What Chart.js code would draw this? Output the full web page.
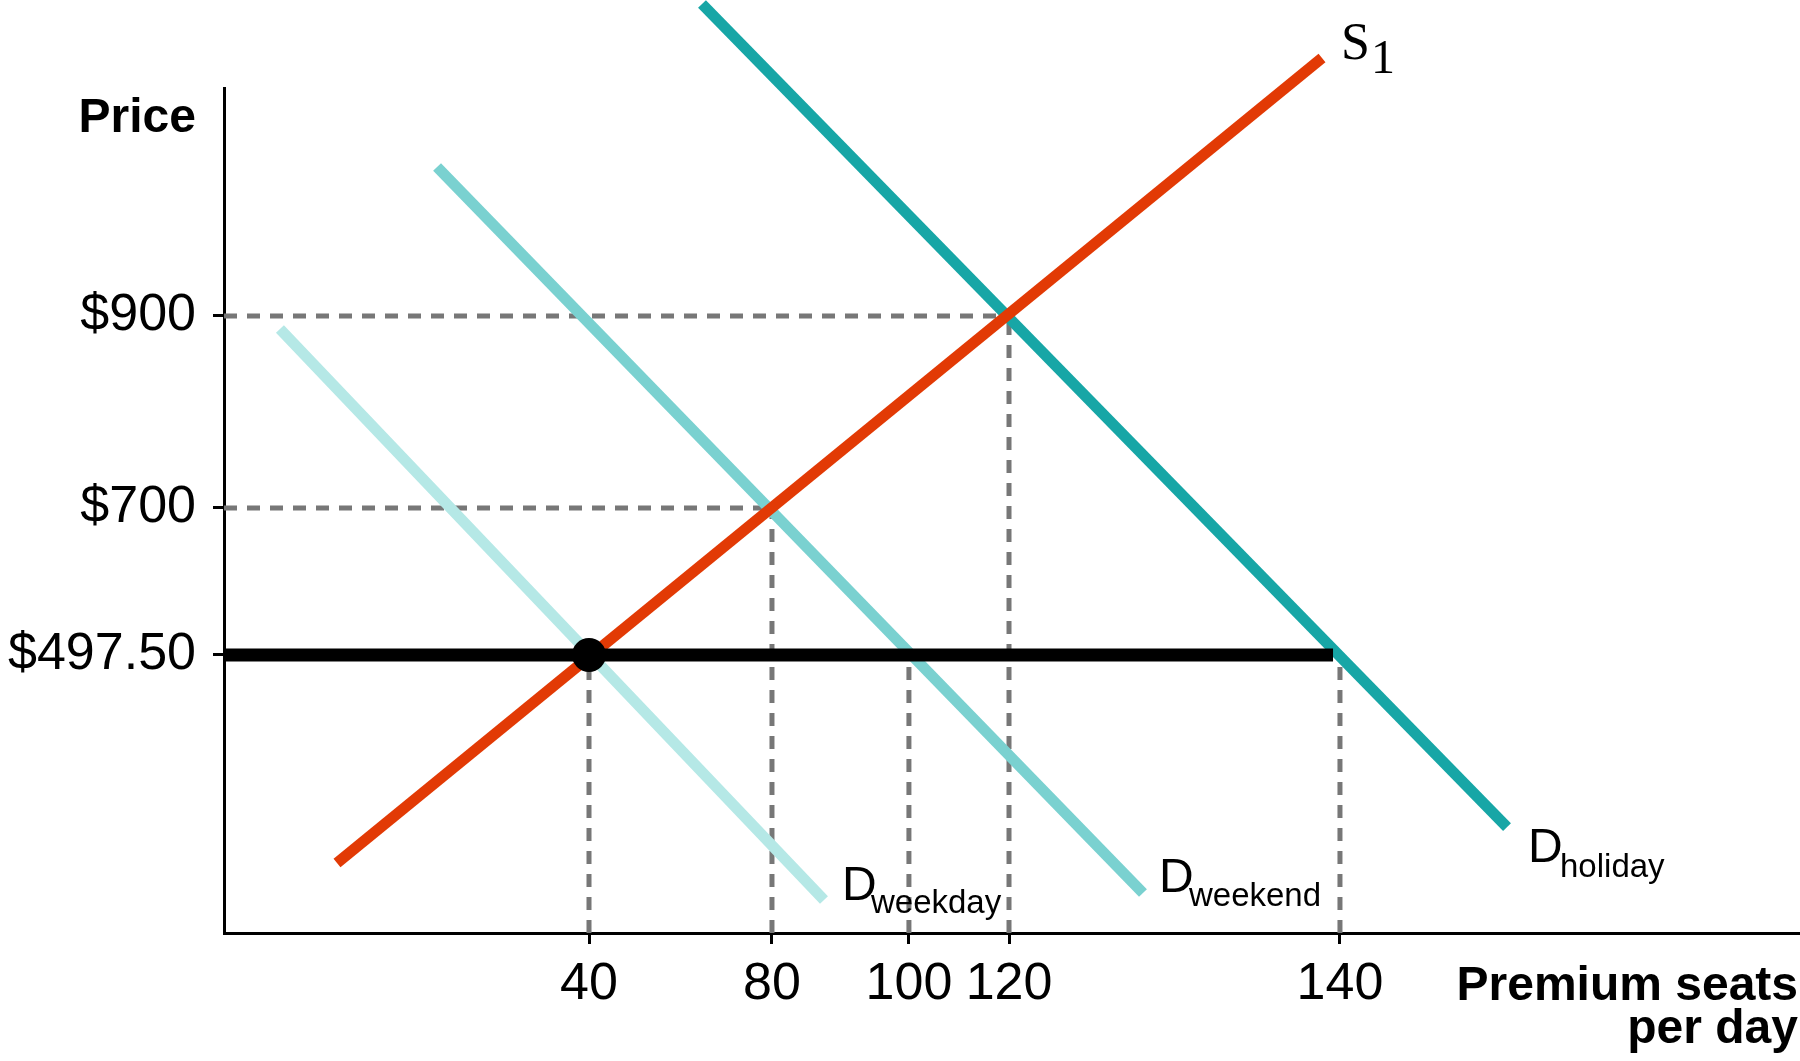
<!DOCTYPE html>
<html>
<head>
<meta charset="utf-8">
<script src="https://cdn.jsdelivr.net/npm/chart.js@4/dist/chart.umd.min.js"></script>
<style>
  html, body { margin: 0; padding: 0; background: #ffffff; }
  #wrap { width: 1800px; height: 1061px; }
</style>
</head>
<body>
<div id="wrap"><canvas id="c" width="1800" height="1061"></canvas></div>
<script>
// ---- Data (schematic diagram units, axis runs 0..100 in both directions) ----
const xTickLabels = ['40', '80', '100', '120', '140'];
const xTickPos    = [23.16, 34.77, 43.46, 49.81, 70.81];
const yTickLabels = ['$900', '$700', '$497.50'];
const yTickPos    = [73.02, 50.30, 32.90];

const supplyS1      = [[7.17, 8.28], [69.67, 103.55]];
const demandWeekday = [[3.55, 71.48], [38.07, 3.91]];
const demandWeekend = [[13.52, 90.65], [58.31, 4.73]];
const demandHoliday = [[30.33, 109.94], [81.41, 12.54]];
const priceLine     = [[0, 32.90], [70.37, 32.90]];
const equilibrium   = [[23.16, 32.90]];

// guide lines: [x tick index, y tick index]
const verticalGuides   = [[0, 2], [1, 1], [2, 2], [3, 0], [4, 2]];
const horizontalGuides = [[1, 1], [3, 0]];

// ---- Build datasets ----
const toPts = arr => arr.map(p => ({ x: p[0], y: p[1] }));
const FONT = 'Liberation Sans';

const lineDs = (label, data, color, width) => ({
  label, data: toPts(data), showLine: true, borderColor: color, backgroundColor: color,
  borderWidth: width, pointRadius: 0, borderCapStyle: 'butt', clip: false, tension: 0
});

const datasets = [];
datasets.push({
  label: 'equilibrium', data: toPts(equilibrium), pointRadius: 17, pointHoverRadius: 17,
  backgroundColor: '#000000', borderColor: '#000000', borderWidth: 0, showLine: false, clip: false
});
datasets.push(lineDs('price', priceLine, '#000000', 13));
datasets.push(lineDs('S1', supplyS1, '#E23A05', 11));
datasets.push(lineDs('Dholiday', demandHoliday, '#17A6A6', 11));
datasets.push(lineDs('Dweekend', demandWeekend, '#7AD1D0', 11));
datasets.push(lineDs('Dweekday', demandWeekday, '#B5E8E6', 11));

const guideStyle = { borderColor: '#777777', borderWidth: 5, borderDash: [13, 10], borderCapStyle: 'butt',
  pointRadius: 0, showLine: true, clip: false };
verticalGuides.forEach(([xi, yi]) => {
  datasets.push(Object.assign({ label: 'v' + xi, data: [{ x: xTickPos[xi], y: 0 }, { x: xTickPos[xi], y: yTickPos[yi] }] }, guideStyle));
});
horizontalGuides.forEach(([xi, yi]) => {
  datasets.push(Object.assign({ label: 'h' + yi, data: [{ x: 0, y: yTickPos[yi] }, { x: xTickPos[xi], y: yTickPos[yi] }] }, guideStyle));
});

// ---- Label styling (positions relative to line ends) ----
const curveLabels = [
  { main: 'D', sub: 'weekday', data: demandWeekday, end: 1, dx: 18, dy: 0,  subDx: 29, subDy: 13, serif: false },
  { main: 'D', sub: 'weekend', data: demandWeekend, end: 1, dx: 16, dy: -1, subDx: 30, subDy: 14, serif: false },
  { main: 'D', sub: 'holiday', data: demandHoliday, end: 1, dx: 21, dy: 35, subDx: 32, subDy: 15, serif: false },
  { main: 'S', sub: '1', data: supplyS1, end: 1, dx: 19, dy: 1, subDx: 30, subDy: 14, serif: true }
];

const textPlugin = {
  id: 'texts',
  afterDraw(chart) {
    const ctx = chart.ctx, xs = chart.scales.x, ys = chart.scales.y, ca = chart.chartArea;
    ctx.save();
    ctx.fillStyle = '#000000';
    ctx.textBaseline = 'alphabetic';
    curveLabels.forEach(l => {
      const p = l.data[l.end];
      const px = xs.getPixelForValue(p[0]) + l.dx;
      const py = ys.getPixelForValue(p[1]) + l.dy;
      ctx.textAlign = 'left';
      if (l.serif) {
        ctx.font = '52px "Liberation Serif"';
        ctx.fillText(l.main, px, py);
        ctx.font = '48px "Liberation Serif"';
        ctx.fillText(l.sub, px + l.subDx, py + l.subDy);
      } else {
        ctx.font = '48px "' + FONT + '"';
        ctx.fillText(l.main, px, py);
        ctx.font = '33px "' + FONT + '"';
        ctx.fillText(l.sub, px + l.subDx, py + l.subDy);
      }
    });
    ctx.font = 'bold 48px "' + FONT + '"';
    ctx.textAlign = 'right';
    ctx.fillText('Price', ca.left - 28, ca.top + 44);
    ctx.fillText('Premium seats', ca.right - 2, ca.bottom + 67);
    ctx.fillText('per day', ca.right - 2, ca.bottom + 110);
    ctx.restore();
  }
};

new Chart(document.getElementById('c'), {
  type: 'scatter',
  data: { datasets },
  options: {
    responsive: false,
    animation: false,
    events: [],
    layout: { autoPadding: false, padding: { top: 88, left: 0, right: 0, bottom: 0 } },
    plugins: { legend: { display: false }, tooltip: { enabled: false }, title: { display: false } },
    scales: {
      x: {
        type: 'linear', min: 0, max: 100,
        afterFit: s => { s.height = 128; s.paddingLeft = 0; s.paddingRight = 0; },
        afterBuildTicks: s => { s.ticks = xTickPos.map(v => ({ value: v })); },
        border: { display: true, color: '#000000', width: 3 },
        grid: { display: true, drawOnChartArea: false, drawTicks: true, tickLength: 11, tickWidth: 3, tickColor: '#000000' },
        ticks: {
          autoSkip: false, maxRotation: 0, minRotation: 0, padding: 9, color: '#000000',
          font: { family: FONT, size: 52 },
          callback: (v, i) => xTickLabels[i]
        }
      },
      y: {
        type: 'linear', min: 0, max: 100,
        afterFit: s => { s.width = 224; s.paddingTop = 0; s.paddingBottom = 0; },
        afterBuildTicks: s => { s.ticks = yTickPos.map(v => ({ value: v })); },
        border: { display: true, color: '#000000', width: 3 },
        grid: { display: true, drawOnChartArea: false, drawTicks: true, tickLength: 11, tickWidth: 3, tickColor: '#000000' },
        ticks: {
          autoSkip: false, padding: 17, color: '#000000',
          font: { family: FONT, size: 52 },
          callback: (v, i) => yTickLabels[i]
        }
      }
    }
  },
  plugins: [textPlugin]
});
</script>
</body>
</html>
